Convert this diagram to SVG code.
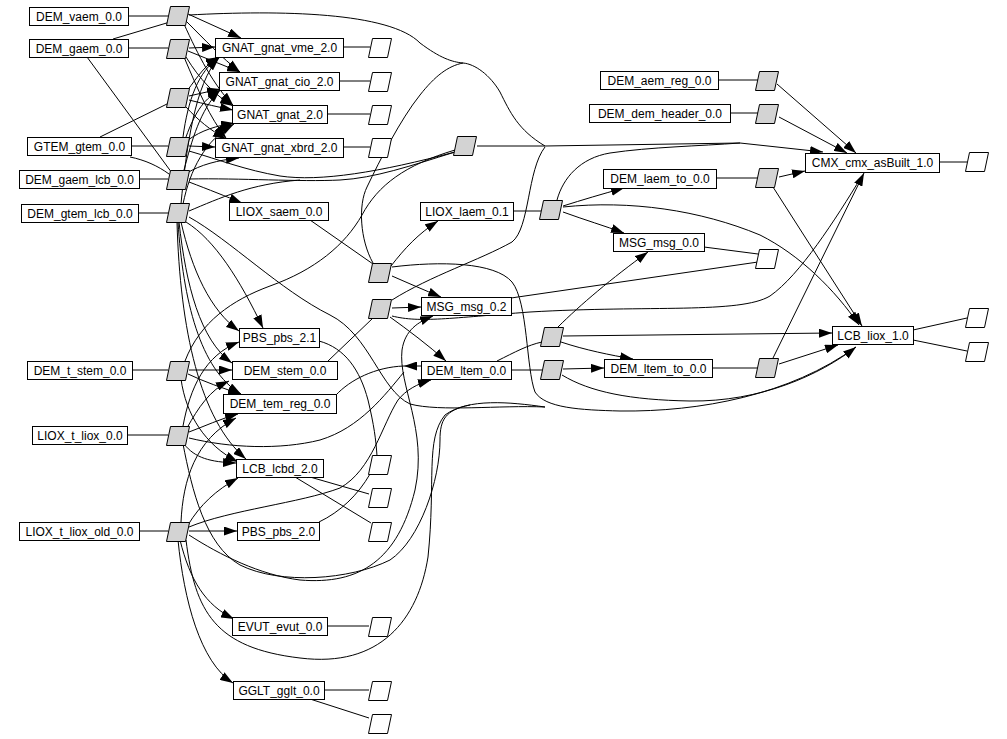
<svg xmlns="http://www.w3.org/2000/svg" width="1007" height="739" viewBox="0 0 1007 739">
<defs>
<style>
.n rect{fill:#fff;stroke:#000;stroke-width:1}
text{font-family:"Liberation Sans",Arial,Helvetica,sans-serif;font-size:12px;text-anchor:middle;fill:#000}
.h{fill:#d3d3d3;stroke:#000;stroke-width:1}
.o{fill:#fff;stroke:#000;stroke-width:1}
#edges path{fill:none;stroke:#000;stroke-width:1}
#edges path.a{marker-end:url(#ah)}
</style>
<marker id="ah" markerWidth="13" markerHeight="9" refX="13" refY="4.5" orient="auto" markerUnits="userSpaceOnUse"><path d="M0,0 L13,4.5 L0,9 Z" fill="#000"/></marker>
<path id="para" d="M4,0 H23 L19,19 H0 Z"/>
</defs>
<rect width="1007" height="739" fill="#fff"/>
<g id="edges">
<path d="M129,16 L168,16"/>
<path d="M113,39 L170,22"/>
<path d="M128,48 L168,48"/>
<path d="M87,57 L172,173"/>
<path d="M100,137 L169,103"/>
<path d="M131,146 L168,146"/>
<path d="M130,157 C145,160 158,166 169,174"/>
<path d="M139,179 L168,179"/>
<path d="M138,213 L168,213"/>
<path d="M132,370 L168,370"/>
<path d="M127,435 L168,435"/>
<path d="M139,531 L168,531"/>
<path class="a" d="M188,14 L241,38"/>
<path class="a" d="M186,21 C205,40 222,58 240,72"/>
<path class="a" d="M184,24 C198,55 214,86 233,105"/>
<path class="a" d="M189,15 C280,10 390,12 420,43 C440,58 452,62 463,63 C475,64 490,75 500,92 C510,112 518,130 545,146 L740,143 L823,152"/>
<path class="a" d="M189,48 L215,47"/>
<path class="a" d="M188,51 L240,72"/>
<path class="a" d="M186,57 C200,80 215,95 233,106"/>
<path class="a" d="M184,57 C198,90 210,118 226,138"/>
<path class="a" d="M187,91 C198,76 206,64 219,57"/>
<path class="a" d="M189,96 L220,89"/>
<path class="a" d="M189,100 C205,104 218,107 233,110"/>
<path class="a" d="M186,107 C198,120 210,130 226,139"/>
<path class="a" d="M189,146 L215,147"/>
<path class="a" d="M188,140 C202,130 216,126 234,123"/>
<path class="a" d="M186,137 C195,112 205,97 221,90"/>
<path class="a" d="M183,137 C188,100 198,72 219,57"/>
<path d="M189,151 C220,160 245,170 280,176 C320,182 380,172 455,152"/>
<path class="a" d="M189,182 C210,190 225,196 242,203"/>
<path d="M189,179 C240,178 300,182 340,180 C375,178 410,166 455,152"/>
<path class="a" d="M187,173 C200,165 218,160 239,158"/>
<path class="a" d="M184,170 C192,140 200,110 220,90"/>
<path class="a" d="M183,204 C190,170 205,140 234,124"/>
<path class="a" d="M181,204 C186,150 195,82 219,58"/>
<path d="M189,211 C220,198 250,184 300,180"/>
<path class="a" d="M181,222 C192,270 210,310 239,331"/>
<path class="a" d="M186,222 C215,240 240,280 263,328"/>
<path class="a" d="M179,222 C186,285 200,340 232,363"/>
<path class="a" d="M178,222 C183,300 200,370 241,394"/>
<path class="a" d="M177,222 C180,330 200,420 246,459"/>
<path d="M189,217 C230,240 280,290 330,315 C370,335 380,390 410,404 C440,412 500,405 545,407"/>
<path class="a" d="M189,370 L232,370"/>
<path class="a" d="M188,374 C205,382 222,388 241,394"/>
<path d="M185,361 C200,322 232,300 270,286 C315,270 345,245 362,215 C378,185 405,165 455,150"/>
<path class="a" d="M181,379 C186,415 205,445 238,462"/>
<path class="a" d="M187,428 C198,408 210,390 229,381"/>
<path class="a" d="M189,432 C205,426 220,419 238,414"/>
<path class="a" d="M183,426 C190,388 205,355 239,342"/>
<path class="a" d="M184,444 C195,458 210,462 236,463"/>
<path d="M189,438 C230,448 280,450 320,440 C360,428 385,395 404,372"/>
<path class="a" d="M421,366 L404,366"/>
<path d="M336,395 C350,380 375,367 404,366"/>
<path class="a" d="M189,531 L237,531"/>
<path class="a" d="M188,525 C200,505 216,490 238,478"/>
<path class="a" d="M180,540 C190,580 205,605 234,619"/>
<path class="a" d="M178,540 C184,600 200,662 233,683"/>
<path class="a" d="M189,527 C230,510 300,503 340,488 C372,470 382,425 398,400 C406,390 417,384 431,380"/>
<path class="a" d="M189,535 C220,555 260,575 300,580 C360,585 398,560 415,490 C428,430 398,385 402,350 C405,330 418,322 433,316"/>
<path d="M186,540 C195,612 215,648 300,658 C380,668 418,620 428,557 C436,480 425,440 445,415 C468,398 510,402 545,407"/>
<path class="a" d="M181,522 C183,480 195,440 236,418"/>
<path d="M183,444 C192,490 205,545 240,565 C280,585 350,580 390,560 C420,540 440,480 440,440 C440,420 445,410 470,405"/>
<path d="M319,341 C345,348 360,370 368,400 C374,425 376,440 377,456"/>
<path d="M319,522 C340,512 358,495 370,474"/>
<path d="M310,477 L369,494"/>
<path d="M295,477 L371,523"/>
<path d="M327,626 L369,626"/>
<path d="M324,690 L369,690"/>
<path d="M310,699 L369,718"/>
<path d="M343,47 L370,47"/>
<path d="M339,81 L370,81"/>
<path d="M327,114 L370,114"/>
<path d="M343,147 L370,147"/>
<path d="M310,220 L373,264"/>
<path d="M328,361 L373,318"/>
<path class="a" d="M391,266 C405,248 418,234 438,221"/>
<path class="a" d="M392,276 C408,283 424,290 441,297"/>
<path d="M392,267 C440,261 495,262 512,282 C528,302 526,368 535,392 C545,408 580,410 620,411 C700,412 790,395 856,347"/>
<path d="M373,263 C360,240 358,205 367,187 C380,160 400,120 420,95 C435,76 448,66 463,63"/>
<path class="a" d="M392,308 L421,307"/>
<path class="a" d="M390,317 C408,330 428,345 446,361"/>
<path d="M392,300 C430,276 480,260 512,242 C530,228 527,170 545,147"/>
<path d="M392,316 C420,323 450,318 530,312 C650,305 740,314 770,296 C800,275 835,220 862,176"/>
<path d="M477,146 L545,146"/>
<path d="M513,211 L541,211"/>
<path class="a" d="M563,206 C582,200 602,194 624,188"/>
<path class="a" d="M563,212 C585,220 605,226 624,233"/>
<path d="M557,200 C563,178 580,158 610,153 C650,147 700,146 740,143"/>
<path class="a" d="M563,207 C630,200 700,210 760,235 C800,255 835,290 859,325"/>
<path d="M497,361 C515,352 528,345 542,342"/>
<path class="a" d="M563,336 L832,333"/>
<path class="a" d="M561,342 C585,350 610,355 633,359"/>
<path class="a" d="M558,327 C580,305 612,278 648,252"/>
<path d="M511,370 L542,370"/>
<path class="a" d="M563,369 L604,368"/>
<path class="a" d="M562,375 C590,392 630,400 690,401 C760,402 820,375 856,347"/>
<path d="M718,80 L759,80"/>
<path d="M730,113 L759,113"/>
<path d="M716,178 L759,178"/>
<path d="M712,368 L759,368"/>
<path class="a" d="M777,84 L856,153"/>
<path class="a" d="M779,117 L847,153"/>
<path class="a" d="M779,177 L805,171"/>
<path class="a" d="M773,187 L862,326"/>
<path class="a" d="M779,364 L838,345"/>
<path class="a" d="M773,358 L864,173"/>
<path d="M704,247 L758,254"/>
<path d="M511,298 L758,262"/>
<path d="M939,162 L967,162"/>
<path d="M913,330 L967,318"/>
<path d="M913,340 L967,351"/>
</g>
<g id="hubs">
<g id="hub_L1"><use href="#para" class="h" x="166.5" y="6.5"/></g>
<g id="hub_L2"><use href="#para" class="h" x="166.5" y="39.5"/></g>
<g id="hub_L3"><use href="#para" class="h" x="166.5" y="88.5"/></g>
<g id="hub_L4"><use href="#para" class="h" x="166.5" y="137.5"/></g>
<g id="hub_L5"><use href="#para" class="h" x="166.5" y="170.5"/></g>
<g id="hub_L6"><use href="#para" class="h" x="166.5" y="203.5"/></g>
<g id="hub_L7"><use href="#para" class="h" x="166.5" y="361.5"/></g>
<g id="hub_L8"><use href="#para" class="h" x="166.5" y="426.5"/></g>
<g id="hub_L9"><use href="#para" class="h" x="166.5" y="522.5"/></g>
<g id="hub_M1"><use href="#para" class="h" x="368.5" y="263.5"/></g>
<g id="hub_M2"><use href="#para" class="h" x="368.5" y="299.5"/></g>
<g id="hub_M3"><use href="#para" class="h" x="453.5" y="136.5"/></g>
<g id="hub_M4"><use href="#para" class="h" x="539.5" y="200.5"/></g>
<g id="hub_M5"><use href="#para" class="h" x="540.5" y="327.5"/></g>
<g id="hub_M6"><use href="#para" class="h" x="540.5" y="360.5"/></g>
<g id="hub_R1"><use href="#para" class="h" x="755.5" y="71.5"/></g>
<g id="hub_R2"><use href="#para" class="h" x="755.5" y="104.5"/></g>
<g id="hub_R3"><use href="#para" class="h" x="755.5" y="168.5"/></g>
<g id="hub_R4"><use href="#para" class="h" x="755.5" y="358.5"/></g>
</g>
<g id="outputs">
<g id="out_1"><use href="#para" class="o" x="368.5" y="38.5"/></g>
<g id="out_2"><use href="#para" class="o" x="368.5" y="72.5"/></g>
<g id="out_3"><use href="#para" class="o" x="368.5" y="105.5"/></g>
<g id="out_4"><use href="#para" class="o" x="368.5" y="138.5"/></g>
<g id="out_5"><use href="#para" class="o" x="368.5" y="455.5"/></g>
<g id="out_6"><use href="#para" class="o" x="368.5" y="488.5"/></g>
<g id="out_7"><use href="#para" class="o" x="368.5" y="522.5"/></g>
<g id="out_8"><use href="#para" class="o" x="368.5" y="617.5"/></g>
<g id="out_9"><use href="#para" class="o" x="368.5" y="681.5"/></g>
<g id="out_10"><use href="#para" class="o" x="368.5" y="714.5"/></g>
<g id="out_11"><use href="#para" class="o" x="755.5" y="249.5"/></g>
<g id="out_12"><use href="#para" class="o" x="965.5" y="152.5"/></g>
<g id="out_13"><use href="#para" class="o" x="965.5" y="308.5"/></g>
<g id="out_14"><use href="#para" class="o" x="965.5" y="342.5"/></g>
</g>
<g id="n_DEM_vaem" class="n"><rect x="29.5" y="7.5" width="99" height="18"/><text x="79" y="21">DEM_vaem_0.0</text></g>
<g id="n_DEM_gaem" class="n"><rect x="29.5" y="39.5" width="99" height="18"/><text x="79" y="53">DEM_gaem_0.0</text></g>
<g id="n_GTEM_gtem" class="n"><rect x="27.5" y="137.5" width="104" height="18"/><text x="79.5" y="151">GTEM_gtem_0.0</text></g>
<g id="n_DEM_gaem_lcb" class="n"><rect x="19.5" y="170.5" width="120" height="18"/><text x="79.5" y="184">DEM_gaem_lcb_0.0</text></g>
<g id="n_DEM_gtem_lcb" class="n"><rect x="21.5" y="204.5" width="117" height="18"/><text x="80" y="218">DEM_gtem_lcb_0.0</text></g>
<g id="n_DEM_t_stem" class="n"><rect x="27.5" y="361.5" width="105" height="18"/><text x="80" y="375">DEM_t_stem_0.0</text></g>
<g id="n_LIOX_t_liox" class="n"><rect x="32.5" y="426.5" width="95" height="18"/><text x="80" y="440">LIOX_t_liox_0.0</text></g>
<g id="n_LIOX_t_liox_old" class="n"><rect x="19.5" y="522.5" width="120" height="18"/><text x="79.5" y="536">LIOX_t_liox_old_0.0</text></g>
<g id="n_GNAT_gnat_vme" class="n"><rect x="215.5" y="38.5" width="128" height="19"/><text x="279.5" y="52">GNAT_gnat_vme_2.0</text></g>
<g id="n_GNAT_gnat_cio" class="n"><rect x="219.5" y="72.5" width="120" height="18"/><text x="279.5" y="86">GNAT_gnat_cio_2.0</text></g>
<g id="n_GNAT_gnat" class="n"><rect x="232.5" y="105.5" width="95" height="18"/><text x="280" y="119">GNAT_gnat_2.0</text></g>
<g id="n_GNAT_gnat_xbrd" class="n"><rect x="215.5" y="138.5" width="128" height="19"/><text x="279.5" y="152">GNAT_gnat_xbrd_2.0</text></g>
<g id="n_LIOX_saem" class="n"><rect x="229.5" y="202.5" width="99" height="18"/><text x="279" y="216">LIOX_saem_0.0</text></g>
<g id="n_PBS_pbs_21" class="n"><rect x="239.5" y="328.5" width="80" height="19"/><text x="279.5" y="342">PBS_pbs_2.1</text></g>
<g id="n_DEM_stem" class="n"><rect x="232.5" y="361.5" width="105" height="18"/><text x="285" y="375">DEM_stem_0.0</text></g>
<g id="n_DEM_tem_reg" class="n"><rect x="223.5" y="394.5" width="113" height="19"/><text x="280" y="408">DEM_tem_reg_0.0</text></g>
<g id="n_LCB_lcbd" class="n"><rect x="236.5" y="459.5" width="87" height="18"/><text x="280" y="473">LCB_lcbd_2.0</text></g>
<g id="n_PBS_pbs_20" class="n"><rect x="237.5" y="522.5" width="82" height="18"/><text x="278.5" y="536">PBS_pbs_2.0</text></g>
<g id="n_EVUT_evut" class="n"><rect x="232.5" y="617.5" width="95" height="18"/><text x="280" y="631">EVUT_evut_0.0</text></g>
<g id="n_GGLT_gglt" class="n"><rect x="233.5" y="681.5" width="91" height="18"/><text x="279" y="695">GGLT_gglt_0.0</text></g>
<g id="n_LIOX_laem" class="n"><rect x="420.5" y="202.5" width="93" height="18"/><text x="467" y="216">LIOX_laem_0.1</text></g>
<g id="n_MSG_msg_02" class="n"><rect x="421.5" y="297.5" width="90" height="18"/><text x="466.5" y="311">MSG_msg_0.2</text></g>
<g id="n_DEM_ltem" class="n"><rect x="421.5" y="361.5" width="90" height="18"/><text x="466.5" y="375">DEM_ltem_0.0</text></g>
<g id="n_DEM_aem_reg" class="n"><rect x="600.5" y="71.5" width="118" height="18"/><text x="659.5" y="85">DEM_aem_reg_0.0</text></g>
<g id="n_DEM_dem_header" class="n"><rect x="589.5" y="104.5" width="141" height="18"/><text x="660" y="118">DEM_dem_header_0.0</text></g>
<g id="n_DEM_laem_to" class="n"><rect x="603.5" y="169.5" width="113" height="19"/><text x="660" y="183">DEM_laem_to_0.0</text></g>
<g id="n_MSG_msg_00" class="n"><rect x="613.5" y="233.5" width="91" height="18"/><text x="659" y="247">MSG_msg_0.0</text></g>
<g id="n_DEM_ltem_to" class="n"><rect x="604.5" y="359.5" width="108" height="18"/><text x="658.5" y="373">DEM_ltem_to_0.0</text></g>
<g id="n_CMX_cmx_asBuilt" class="n"><rect x="805.5" y="153.5" width="134" height="19"/><text x="872.5" y="167">CMX_cmx_asBuilt_1.0</text></g>
<g id="n_LCB_liox" class="n"><rect x="832.5" y="326.5" width="81" height="18"/><text x="873" y="340">LCB_liox_1.0</text></g>
</svg>
